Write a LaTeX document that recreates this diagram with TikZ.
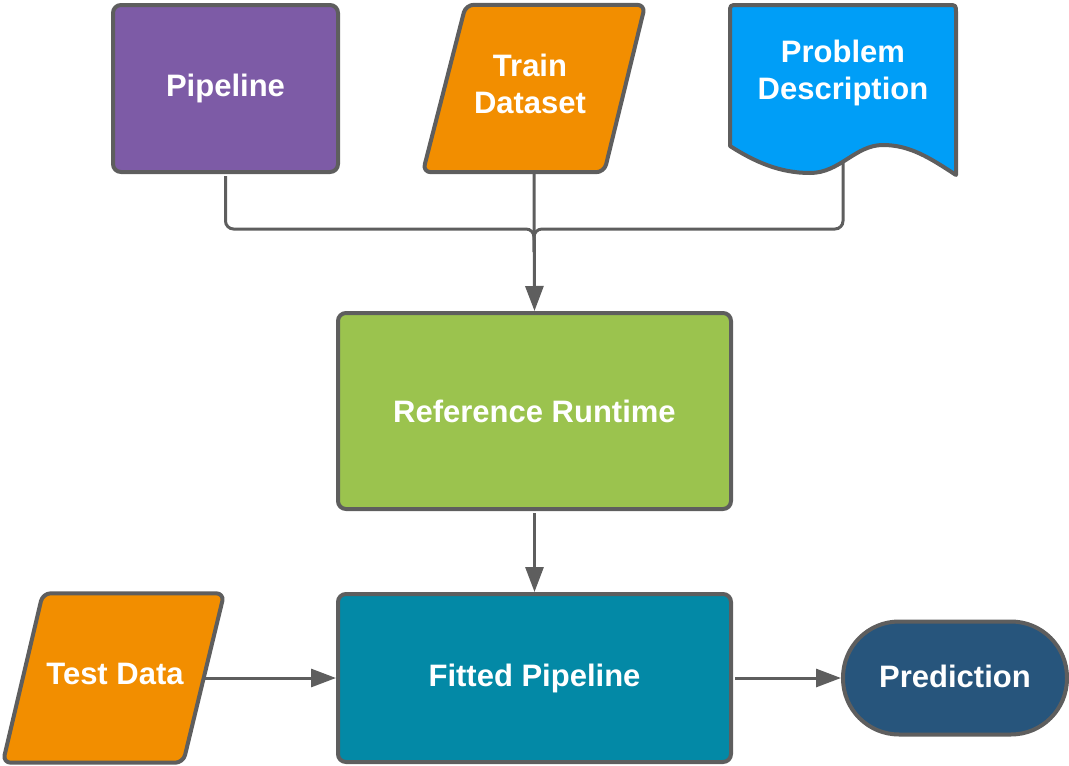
\documentclass[tikz,border=0pt]{standalone}
\usepackage{fontspec}
\setmainfont{Liberation Sans}
\usetikzlibrary{arrows.meta,calc,backgrounds}
\definecolor{edgegray}{HTML}{5E5E5E}
\definecolor{purplebox}{HTML}{7D5BA6}
\definecolor{orangebox}{HTML}{F28E00}
\definecolor{bluebox}{HTML}{009EF7}
\definecolor{greenbox}{HTML}{9BC34E}
\definecolor{tealbox}{HTML}{0389A6}
\definecolor{navybox}{HTML}{27557C}
\begin{document}
\begin{tikzpicture}[x=1pt,y=-1pt,
  lbl/.style={text=white,font=\fontsize{31}{37}\selectfont\bfseries,align=center},
  box/.style={lbl,draw=edgegray,line width=4pt,rounded corners=8pt,inner sep=0pt},
  ghost/.style={inner sep=0pt},
  outline/.style={draw=edgegray,line width=4pt,rounded corners=8pt,line join=round},
  conn/.style={draw=edgegray,line width=3pt},
  arr/.style={conn,-{Triangle[length=25pt,width=18pt]}}]
\useasboundingbox (0,0) rectangle (1069,766);

% top row: inputs
\node[box,fill=purplebox,minimum width=225pt,minimum height=167pt] (pipe) at (225.5,88.5) {Pipeline};

\node[ghost,minimum width=222pt,minimum height=167pt] (train) at (534,88.5) {};
\node[lbl] (traintext) at (530,84) {Train\\Dataset};
\scoped[on background layer]
  \filldraw[outline,fill=orangebox] ($(train.north west)+(43,0)$) -- (train.north east)
    -- ($(train.south east)-(41,0)$) -- (train.south west) -- cycle;

\node[ghost,minimum width=226pt,minimum height=170pt] (prob) at (843,90) {};
\node[lbl] (probtext) at (843,73) {Problem\\Description};
\scoped[on background layer]
  \filldraw[draw=edgegray,line width=4pt,line join=round,fill=bluebox]
    (730,146) -- (730,13) .. controls (730,5) .. (738,5) -- (948,5)
    .. controls (956,5) .. (956,13) -- (956,175)
    .. controls (930,158) and (910,145) .. (883,145)
    .. controls (855,145) and (840,173) .. (810,173)
    .. controls (780,173) and (755,162) .. (730,146) -- cycle;

% middle and bottom
\node[box,fill=greenbox,minimum width=393pt,minimum height=196pt] (rr) at (534.5,411) {Reference Runtime};
\node[box,fill=tealbox,minimum width=393pt,minimum height=168pt] (fit) at (534.5,678) {Fitted Pipeline};

\node[ghost,minimum width=221pt,minimum height=169pt] (test) at (113.5,678) {};
\node[lbl] (testtext) at (115,674) {Test Data};
\scoped[on background layer]
  \filldraw[outline,fill=orangebox] ($(test.north west)+(40,0)$) -- (test.north east)
    -- ($(test.south east)-(41,0)$) -- (test.south west) -- cycle;

\node[box,fill=navybox,rounded corners=56pt,minimum width=224pt,minimum height=113pt,text depth=4pt] (pred) at (955,678) {Prediction};

% connectors
\coordinate (join) at (534,229);
\coordinate (merge) at (534,252);
\coordinate (probout) at (843,161);
\draw[conn,rounded corners=8pt,shorten <=2pt] (pipe.south) |- (join) -- (merge);
\draw[conn,rounded corners=8pt] (probout) |- (join) -- (merge);
\draw[arr,shorten <=2pt] (train.south) -- (rr.north);
\draw[arr,shorten <=2pt] (rr.south) -- (fit.north);
\draw[arr] ($(test.east)-(20,0)$) -- (fit.west);
\draw[arr,shorten <=2pt] (fit.east) -- (pred.west);
\end{tikzpicture}
\end{document}
